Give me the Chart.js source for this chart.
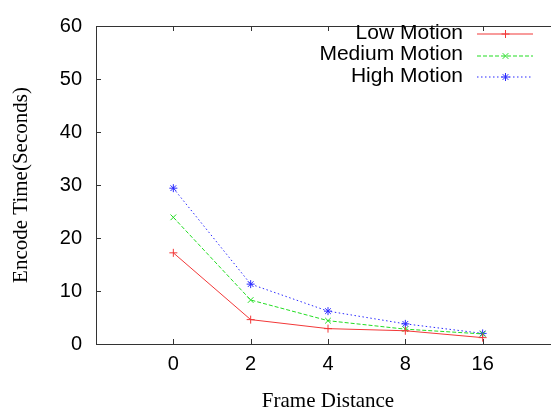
<!DOCTYPE html>
<html>
<head>
<meta charset="utf-8">
<script src="https://cdn.jsdelivr.net/npm/chart.js@4/dist/chart.umd.min.js"></script>
<style>
  html, body { margin: 0; padding: 0; background: #fff; }
  #wrap { width: 551px; height: 410px; overflow: hidden; }
</style>
</head>
<body>
<div id="wrap"><canvas id="chart" width="570" height="410"></canvas></div>
<script>
// frame distance categories on the x axis
const frameDistances = ['0', '2', '4', '8', '16']

// encode time in seconds
const lowMotion = [17.2, 4.6, 2.9, 2.5, 1.2]
const mediumMotion = [23.9, 8.3, 4.4, 2.8, 1.9]
const highMotion = [29.4, 11.3, 6.2, 3.8, 2.0]

const yTicks = [0, 10, 20, 30, 40, 50, 60]

const tickFont = { family: 'Liberation Sans', size: 20 }
const titleFont = { family: 'Liberation Serif', size: 21 }

function toPoints(values) {
  return values.map((v, i) => ({ x: i, y: v }))
}

// gnuplot style frame with inward ticks
const framePlugin = {
  id: 'frame',
  beforeDatasetsDraw(chart) {
    const ctx = chart.ctx
    const a = chart.chartArea
    const xs = chart.scales.x
    const ys = chart.scales.y
    ctx.save()
    ctx.strokeStyle = '#333'
    ctx.lineWidth = 1
    ctx.strokeRect(a.left + 0.5, a.top + 0.5, a.right - a.left, a.bottom - a.top)
    ctx.beginPath()
    yTicks.forEach(t => {
      const y = Math.round(ys.getPixelForValue(t)) + 0.5
      ctx.moveTo(a.left, y); ctx.lineTo(a.left + 5, y)
      ctx.moveTo(a.right, y); ctx.lineTo(a.right - 5, y)
    })
    frameDistances.forEach((_, i) => {
      const x = Math.round(xs.getPixelForValue(i)) + 0.5
      ctx.moveTo(x, a.bottom); ctx.lineTo(x, a.bottom - 5)
      ctx.moveTo(x, a.top); ctx.lineTo(x, a.top + 5)
    })
    ctx.stroke()
    ctx.restore()
  }
}

// legend in the top right corner, text on the left of the sample
const keyPlugin = {
  id: 'key',
  afterDraw(chart) {
    const ctx = chart.ctx
    chart.data.datasets.forEach((ds, i) => {
      const opts = chart.getDatasetMeta(i).dataset.options
      const y = 33 + i * 21.5
      ctx.save()
      ctx.font = '21px "Liberation Sans"'
      ctx.textAlign = 'right'
      ctx.textBaseline = 'middle'
      ctx.fillStyle = '#000'
      ctx.fillText(ds.label, 463, y)
      ctx.restore()

      const ly = Math.round(y) + 1
      ctx.save()
      ctx.lineWidth = 1.2
      ctx.strokeStyle = opts.borderColor
      ctx.setLineDash(opts.borderDash || [])
      ctx.beginPath()
      ctx.moveTo(477, ly)
      ctx.lineTo(533, ly)
      ctx.stroke()
      ctx.restore()

      ctx.save()
      ctx.strokeStyle = opts.borderColor
      ctx.fillStyle = opts.borderColor
      ctx.lineWidth = 1
      Chart.helpers.drawPoint(ctx, {
        pointStyle: ds.pointStyle,
        radius: ds.pointRadius,
        rotation: 0,
        borderWidth: 1
      }, 505.5, ly)
      ctx.restore()
    })
  }
}

new Chart(document.getElementById('chart'), {
  type: 'line',
  data: {
    datasets: [
      {
        label: 'Low Motion',
        data: toPoints(lowMotion),
        borderColor: '#f23838',
        backgroundColor: '#f23838',
        borderWidth: 1,
        pointStyle: 'cross',
        pointRadius: 4,
        pointBorderWidth: 1
      },
      {
        label: 'Medium Motion',
        data: toPoints(mediumMotion),
        borderColor: '#22dd22',
        backgroundColor: '#22dd22',
        borderWidth: 1,
        borderDash: [4, 2],
        pointStyle: 'crossRot',
        pointRadius: 4,
        pointBorderWidth: 1
      },
      {
        label: 'High Motion',
        data: toPoints(highMotion),
        borderColor: '#2a2aff',
        backgroundColor: '#2a2aff',
        borderWidth: 1,
        borderDash: [1.5, 2.5],
        pointStyle: 'star',
        pointRadius: 4,
        pointBorderWidth: 1
      }
    ]
  },
  options: {
    responsive: false,
    animation: false,
    layout: { padding: { left: 0, top: 17, right: 10, bottom: 0 } },
    plugins: {
      legend: { display: false },
      tooltip: { enabled: false }
    },
    scales: {
      x: {
        type: 'linear',
        min: -1,
        max: 5,
        afterBuildTicks(scale) {
          scale.ticks = frameDistances.map((_, i) => ({ value: i }))
        },
        afterFit(scale) { scale.height = 66 },
        grid: { display: false, drawTicks: false },
        border: { display: false },
        ticks: {
          font: tickFont,
          color: '#000',
          padding: 8,
          maxRotation: 0,
          callback: (v) => frameDistances[v]
        },
        title: {
          display: true,
          text: 'Frame Distance',
          font: titleFont,
          color: '#000',
          padding: { top: 0, bottom: -4 }
        }
      },
      y: {
        min: 0,
        max: 60,
        afterBuildTicks(scale) {
          scale.ticks = yTicks.map(v => ({ value: v }))
        },
        afterFit(scale) { scale.width = 96 },
        grid: { display: false, drawTicks: false },
        border: { display: false },
        ticks: {
          font: tickFont,
          color: '#000',
          padding: 14
        },
        title: {
          display: true,
          text: 'Encode Time(Seconds)',
          font: titleFont,
          color: '#000',
          padding: { top: 9, bottom: 0 }
        }
      }
    }
  },
  plugins: [framePlugin, keyPlugin]
})
</script>
</body>
</html>
